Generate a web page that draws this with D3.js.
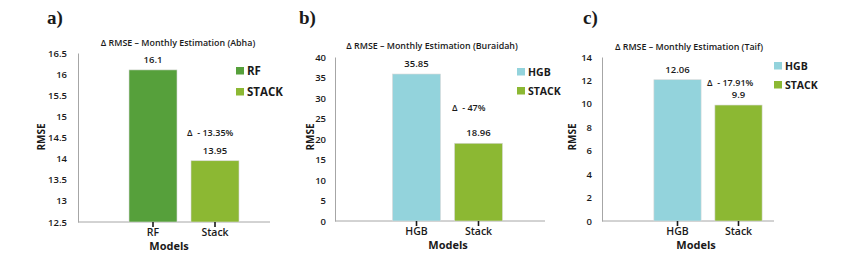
<!DOCTYPE html>
<html lang="en">
<head>
  <meta charset="UTF-8">
  <title>RMSE - Monthly Estimation</title>
  <script src="https://cdn.jsdelivr.net/npm/d3@7"></script>
  <style>
    body { margin: 0; background: #fff; }
    text { font-family: "Open Sans", "Liberation Sans", sans-serif; fill: #1a1a1a; }
  </style>
</head>
<body>
  <svg width="857" height="269"></svg>
<script>
  // data
  const panelTags = ["a)", "b)", "c)"];
  const titles = [
    "\u0394 RMSE \u2013 Monthly Estimation (Abha)",
    "\u0394 RMSE \u2013 Monthly Estimation (Buraidah)",
    "\u0394 RMSE \u2013 Monthly Estimation (Taif)"
  ];
  const modelsA = ["RF", "Stack"];
  const modelsB = ["HGB", "Stack"];
  const modelsC = ["HGB", "Stack"];
  const rmseA = [16.1, 13.95];
  const rmseB = [35.85, 18.96];
  const rmseC = [12.06, 9.9];
  const legendA = ["RF", "STACK"];
  const legendB = ["HGB", "STACK"];
  const legendC = ["HGB", "STACK"];
  const deltas = ["\u0394  - 13.35%", "\u0394  - 47%", "\u0394  - 17.91%"];
  const ticksA = [12.5, 13, 13.5, 14, 14.5, 15, 15.5, 16, 16.5];
  const ticksB = [0, 5, 10, 15, 20, 25, 30, 35, 40];
  const ticksC = [0, 2, 4, 6, 8, 10, 12, 14];

  const colors = { RF: "#56a03b", HGB: "#93d3dc", Stack: "#8cb833" };

  const svg = d3.select("svg");

  // layout for every panel (pixels)
  const layout = [
    { axisX: 78, top: 53, bottom: 222, end: 270, band: [122, 246], tickR: 67, rmseX: 41,
      tag: [47, 24], title: [178, 46], legend: [236, 67, 21], legendSize: 11.5, delta: [187, 136] },
    { axisX: 335, top: 57, bottom: 221, end: 545, band: [385.5, 509.5], tickR: 326, rmseX: 310,
      tag: [299, 24], title: [432, 49], legend: [517, 68, 19], legendSize: 10.5, delta: [452, 111] },
    { axisX: 602, top: 57, bottom: 221, end: 774, band: [647, 769], tickR: 592, rmseX: 572,
      tag: [583, 24], title: [689, 50], legend: [774, 62, 19], legendSize: 10.5, delta: [707, 86] }
  ];

  const panels = [
    { models: modelsA, rmse: rmseA, legend: legendA, ticks: ticksA },
    { models: modelsB, rmse: rmseB, legend: legendB, ticks: ticksB },
    { models: modelsC, rmse: rmseC, legend: legendC, ticks: ticksC }
  ];

  panels.forEach((p, i) => {
    const L = layout[i];
    const g = svg.append("g");

    const y = d3.scaleLinear()
      .domain(d3.extent(p.ticks))
      .range([L.bottom, L.top]);

    const x = d3.scaleBand()
      .domain(p.models)
      .range(L.band)
      .paddingInner(0.226)
      .paddingOuter(0.113);

    // panel tag
    g.append("text")
      .attr("x", L.tag[0]).attr("y", L.tag[1])
      .style("font-family", "'Liberation Serif', 'DejaVu Serif', serif")
      .attr("font-weight", 700)
      .attr("font-size", 19)
      .text(panelTags[i]);

    // title
    g.append("text")
      .attr("x", L.title[0]).attr("y", L.title[1])
      .attr("text-anchor", "middle")
      .attr("font-weight", 600)
      .attr("font-size", 8.9)
      .text(titles[i]);

    // y axis
    const yAxis = g.append("g")
      .attr("transform", `translate(${L.axisX},0)`)
      .call(d3.axisLeft(y).tickValues(p.ticks).tickSize(0).tickFormat(d => d));
    yAxis.select(".domain").attr("stroke", "#a6a6a6").attr("stroke-width", 1);
    yAxis.selectAll("text")
      .attr("x", L.tickR - L.axisX)
      .attr("font-size", 9.5)
      .attr("font-weight", 600)
      .style("font-family", null)
      .attr("fill", "#1a1a1a");
    yAxis.attr("font-family", null);

    // base line
    g.append("line")
      .attr("x1", L.axisX).attr("x2", L.end)
      .attr("y1", L.bottom).attr("y2", L.bottom)
      .attr("stroke", "#a6a6a6").attr("stroke-width", 1);

    // bars
    g.selectAll("rect.bar")
      .data(p.models)
      .join("rect")
      .attr("class", "bar")
      .attr("x", d => x(d))
      .attr("width", x.bandwidth())
      .attr("y", (d, j) => y(p.rmse[j]))
      .attr("height", (d, j) => L.bottom - y(p.rmse[j]))
      .attr("fill", d => colors[d])
      .attr("stroke", "#d9d9d9")
      .attr("stroke-width", 0.6);

    // value labels
    g.selectAll("text.val")
      .data(p.models)
      .join("text")
      .attr("class", "val")
      .attr("x", d => x(d) + x.bandwidth() / 2)
      .attr("y", (d, j) => y(p.rmse[j]) - 7)
      .attr("text-anchor", "middle")
      .attr("font-size", 9.5)
      .attr("font-weight", 600)
      .text((d, j) => p.rmse[j]);

    // x axis
    const xAxis = g.append("g")
      .attr("transform", `translate(0,${L.bottom})`)
      .call(d3.axisBottom(x).tickSize(5).tickPadding(2));
    xAxis.select(".domain").remove();
    xAxis.selectAll(".tick line").attr("stroke", "#1a1a1a").attr("stroke-width", 1.6);
    xAxis.selectAll("text")
      .attr("font-size", 10.5)
      .attr("font-weight", 600)
      .style("font-family", null)
      .attr("fill", "#1a1a1a");
    xAxis.attr("font-family", null);

    // axis titles
    g.append("text")
      .attr("x", (L.axisX + L.end) / 2 + (i === 0 ? -5 : 8))
      .attr("y", L.bottom + 28)
      .attr("text-anchor", "middle")
      .attr("font-size", 11)
      .attr("font-weight", 700)
      .text("Models");

    g.append("text")
      .attr("transform", `translate(${L.rmseX},137) rotate(-90)`)
      .attr("text-anchor", "middle")
      .attr("dy", "0.35em")
      .attr("font-size", 10)
      .attr("font-weight", 700)
      .text("RMSE");

    // delta annotation
    g.append("text")
      .attr("x", L.delta[0]).attr("y", L.delta[1])
      .attr("font-size", 9)
      .attr("font-weight", 600)
      .style("white-space", "pre")
      .text(deltas[i]);

    // legend
    const lg = g.append("g")
      .attr("transform", `translate(${L.legend[0]},${L.legend[1]})`);
    const items = lg.selectAll("g")
      .data(p.legend)
      .join("g")
      .attr("transform", (d, j) => `translate(0,${j * L.legend[2]})`);
    items.append("rect")
      .attr("width", 8).attr("height", 7.5)
      .attr("fill", (d, j) => colors[p.models[j]]);
    items.append("text")
      .attr("x", 11).attr("y", 4)
      .attr("dy", "0.35em")
      .attr("font-size", L.legendSize)
      .attr("font-weight", 700)
      .text(d => d);
  });
</script>
</body>
</html>
